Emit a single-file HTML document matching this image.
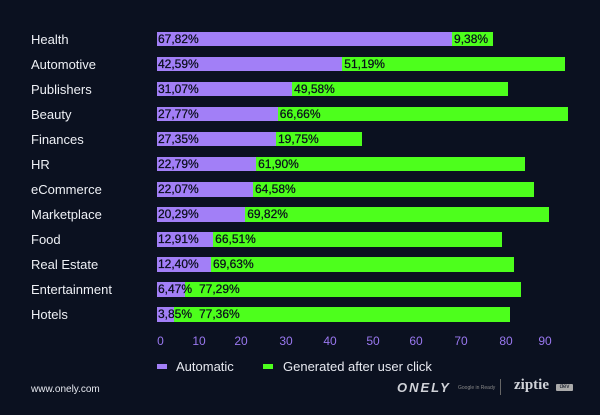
<!DOCTYPE html>
<html><head><style>
body{margin:0;width:600px;height:415px;background:#0b1120;font-family:"Liberation Sans",sans-serif;overflow:hidden;position:relative}
.l{position:absolute;left:31px;color:#eef0f5;font-size:13px;line-height:15px}
.b{position:absolute;height:14.5px;font-size:12px;line-height:15px;color:#0a0e1c;white-space:nowrap;overflow:visible;-webkit-text-stroke:0.25px #0a0e1c}
.p{background:#a27ff7}.g{background:#4dff1c}
.t{position:absolute;top:334px;color:#9a78f0;font-size:12px;transform:translateX(-50%)}
</style></head><body>
<div id="c"></div>
<script>
var d=[["Health",67.82,9.38],["Automotive",42.59,51.19],["Publishers",31.07,49.58],["Beauty",27.77,66.66],["Finances",27.35,19.75],["HR",22.79,61.90],["eCommerce",22.07,64.58],["Marketplace",20.29,69.82],["Food",12.91,66.51],["Real Estate",12.40,69.63],["Entertainment",6.47,77.29],["Hotels",3.85,77.36]];
var s=4.35,x0=157,h="";
function f(v){return v.toFixed(2).replace(".",",")+"%"}
d.forEach(function(r,i){var y=31.7+i*25.05;
h+='<div class="l" style="top:'+(y)+'px">'+r[0]+'</div>';
var w1=r[1]*s,w2=r[2]*s;
var pad=Math.max(2,42-w1);
h+='<div class="b g" style="left:'+(x0+w1)+'px;top:'+y+'px;width:'+w2+'px;padding-left:'+pad+'px;box-sizing:border-box">'+f(r[2])+'</div>';
h+='<div class="b p" style="left:'+x0+'px;top:'+y+'px;width:'+w1+'px;padding-left:1px;box-sizing:border-box">'+f(r[1])+'</div>';
});
var tx=[160.5,199,241,286,330,373,416,461,506,545];
tx.forEach(function(x,i){h+='<div class="t" style="left:'+x+'px">'+(i*10)+'</div>'});
document.getElementById("c").innerHTML=h;
</script>
<div style="position:absolute;left:157px;top:364px;width:10px;height:5px;background:#a27ff7"></div>
<div style="position:absolute;left:176px;top:359px;color:#e6e8ef;font-size:13px">Automatic</div>
<div style="position:absolute;left:263px;top:364px;width:10px;height:5px;background:#4dff1c"></div>
<div style="position:absolute;left:283px;top:359px;color:#e6e8ef;font-size:13px">Generated after user click</div>
<div style="position:absolute;left:31px;top:384px;color:#e6e8ef;font-size:10px">www.onely.com</div>
<div style="position:absolute;left:397px;top:380px;color:#d0d2d8;font-size:13px;font-weight:bold;letter-spacing:2px;font-style:italic">ONELY</div>
<div style="position:absolute;left:458px;top:385px;color:#888;font-size:5px">Google in Ready</div>
<div style="position:absolute;left:500px;top:379px;width:1px;height:16px;background:#666"></div>
<div style="position:absolute;left:514px;top:377px;color:#d0d2d8;font-size:15px;font-weight:bold;font-family:'Liberation Serif',serif">ziptie</div>
<div style="position:absolute;left:556px;top:384px;width:17px;height:7px;background:#aaa;border-radius:1px;font-size:6px;line-height:7px;color:#0b1120;text-align:center">dev</div>
</body></html>
